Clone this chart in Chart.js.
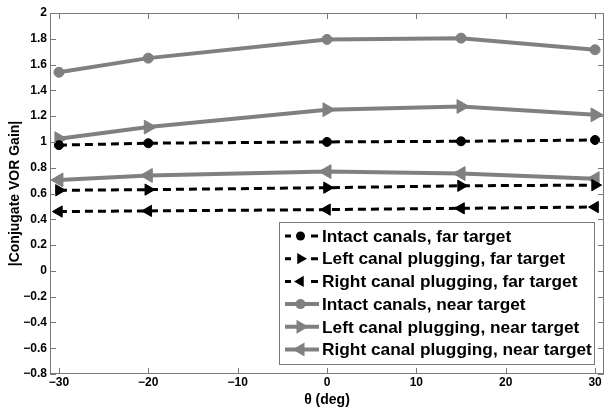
<!DOCTYPE html>
<html>
<head>
<meta charset="utf-8">
<script src="https://cdn.jsdelivr.net/npm/chart.js@4.4.1/dist/chart.umd.min.js"></script>
<style>
html, body { margin: 0; padding: 0; background: #fff; }
#wrap { width: 614px; height: 412px; }
</style>
</head>
<body>
<div id="wrap"><canvas id="c"></canvas></div>
<script>
// gaze angles where gain was measured (deg)
var angles = [-30, -20, 0, 15, 30];

var intactFar = [0.975, 0.99, 1.0, 1.005, 1.015];
var leftFar = [0.625, 0.63, 0.645, 0.66, 0.665];
var rightFar = [0.46, 0.465, 0.475, 0.485, 0.495];
var intactNear = [1.54, 1.65, 1.795, 1.805, 1.715];
var leftNear = [1.025, 1.115, 1.25, 1.275, 1.21];
var rightNear = [0.705, 0.74, 0.77, 0.755, 0.715];

var seriesNames = [
	"Intact canals, far target",
	"Left canal plugging, far target",
	"Right canal plugging, far target",
	"Intact canals, near target",
	"Left canal plugging, near target",
	"Right canal plugging, near target"
];

var xTicks = [-30, -20, -10, 0, 10, 20, 30];
var yTicks = [-0.8, -0.6, -0.4, -0.2, 0, 0.2, 0.4, 0.6, 0.8, 1, 1.2, 1.4, 1.6, 1.8, 2];

var gray = "#808080";
var font = "'Liberation Sans', Arial, sans-serif";

function pts(vals) {
	return vals.map(function(v, i) { return {x: angles[i], y: v}; });
}

function farSet(label, vals, style, rot, r) {
	return {
		label: label, data: pts(vals),
		borderColor: "#000", backgroundColor: "#000",
		borderWidth: 3, borderDash: [8, 5],
		pointStyle: style, pointRotation: rot, pointRadius: r,
		pointBorderWidth: 1, pointBorderColor: "#000", pointBackgroundColor: "#000",
		tension: 0
	};
}

function nearSet(label, vals, style, rot, r) {
	return {
		label: label, data: pts(vals),
		borderColor: gray, backgroundColor: gray,
		borderWidth: 4,
		pointStyle: style, pointRotation: rot, pointRadius: r,
		pointBorderWidth: 1, pointBorderColor: gray, pointBackgroundColor: gray,
		tension: 0
	};
}

var datasets = [
	farSet(seriesNames[0], intactFar, "circle", 0, 4.5),
	farSet(seriesNames[1], leftFar, "triangle", 90, 6.5),
	farSet(seriesNames[2], rightFar, "triangle", 270, 6.5),
	nearSet(seriesNames[3], intactNear, "circle", 0, 5),
	nearSet(seriesNames[4], leftNear, "triangle", 90, 8),
	nearSet(seriesNames[5], rightNear, "triangle", 270, 8)
];

function fmt(v) {
	var s = String(Math.round(v * 10) / 10);
	return s.replace("-", "\u2212");
}

// box round the plot with MATLAB style inward ticks
var frame = {
	id: "frame",
	afterDatasetsDraw: function(chart) {
		var ctx = chart.ctx, a = chart.chartArea;
		var xs = chart.scales.x, ys = chart.scales.y;
		ctx.save();
		ctx.strokeStyle = "#7a7a7a";
		ctx.lineWidth = 1;
		ctx.strokeRect(Math.round(a.left) + 0.5, Math.round(a.top) + 0.5,
			Math.round(a.right - a.left) - 1, Math.round(a.bottom - a.top) - 1);
		ctx.beginPath();
		xTicks.forEach(function(v) {
			var px = Math.round(xs.getPixelForValue(v)) + 0.5;
			ctx.moveTo(px, a.bottom); ctx.lineTo(px, a.bottom - 6);
			ctx.moveTo(px, a.top); ctx.lineTo(px, a.top + 6);
		});
		yTicks.forEach(function(v) {
			var py = Math.round(ys.getPixelForValue(v)) + 0.5;
			ctx.moveTo(a.left, py); ctx.lineTo(a.left + 6, py);
			ctx.moveTo(a.right, py); ctx.lineTo(a.right - 6, py);
		});
		ctx.stroke();
		ctx.restore();
	}
};

function marker(ctx, ds, x, y) {
	var r = ds.pointRadius;
	ctx.fillStyle = ds.pointBackgroundColor;
	ctx.beginPath();
	if (ds.pointStyle === "circle") {
		ctx.arc(x, y, r, 0, Math.PI * 2);
	} else {
		var rad = ds.pointRotation * Math.PI / 180;
		for (var k = 0; k < 3; k++) {
			var px = x + Math.sin(rad) * r, py = y - Math.cos(rad) * r;
			if (k === 0) ctx.moveTo(px, py); else ctx.lineTo(px, py);
			rad += Math.PI * 2 / 3;
		}
		ctx.closePath();
	}
	ctx.fill();
}

// legend box inside the plot, lower right
var boxLegend = {
	id: "boxLegend",
	afterDraw: function(chart) {
		var ctx = chart.ctx, a = chart.chartArea;
		var w = 316, h = 143;
		var x0 = Math.round(a.right - 9 - w), y0 = Math.round(a.bottom - 9.5 - h);
		ctx.save();
		ctx.fillStyle = "#fff";
		ctx.fillRect(x0, y0, w, h);
		ctx.strokeStyle = "#7a7a7a";
		ctx.lineWidth = 1;
		ctx.strokeRect(x0 + 0.5, y0 + 0.5, w - 1, h - 1);
		chart.data.datasets.forEach(function(ds, i) {
			var cy = y0 + 14 + i * 22.7;
			var lx = x0 + 6, rx = x0 + 40, mx = x0 + 21.5;
			ctx.strokeStyle = ds.borderColor;
			ctx.lineWidth = ds.borderWidth;
			ctx.beginPath();
			if (ds.borderDash) {
				ctx.moveTo(lx, cy); ctx.lineTo(lx + 6, cy);
				ctx.moveTo(rx - 8, cy); ctx.lineTo(rx - 1, cy);
			} else {
				ctx.moveTo(lx, cy); ctx.lineTo(rx, cy);
			}
			ctx.stroke();
			marker(ctx, ds, mx, cy);
			ctx.fillStyle = "#000";
			ctx.font = "bold 17.3px " + font;
			ctx.textBaseline = "middle";
			ctx.textAlign = "left";
			ctx.fillText(ds.label, x0 + 43, cy + 1);
		});
		ctx.restore();
	}
};

var ctx = document.getElementById("c").getContext("2d");
var chart = new Chart(ctx, {
	type: "line",
	data: {datasets: datasets},
	plugins: [frame, boxLegend],
	options: {
		responsive: true,
		maintainAspectRatio: false,
		animation: false,
		devicePixelRatio: 1,
		layout: {padding: {top: 13, right: 10, left: 0, bottom: 0}},
		plugins: {legend: {display: false}, tooltip: {enabled: false}},
		scales: {
			x: {
				type: "linear", min: -31, max: 31,
				afterBuildTicks: function(s) { s.ticks = xTicks.map(function(v) { return {value: v}; }); },
				afterFit: function(s) { s.height = 38; },
				grid: {display: false, drawTicks: false},
				border: {display: false},
				ticks: {
					color: "#000", padding: 1, maxRotation: 0,
					font: {family: font, size: 12, weight: "bold"},
					callback: function(v) { return fmt(v); }
				},
				title: {
					display: true, text: "\u03b8 (deg)", color: "#000",
					font: {family: font, size: 14, weight: "bold"},
					padding: {top: 0, bottom: 3}
				}
			},
			y: {
				min: -0.8, max: 2,
				afterBuildTicks: function(s) { s.ticks = yTicks.map(function(v) { return {value: v}; }); },
				afterFit: function(s) { s.width = 50; },
				grid: {display: false, drawTicks: false},
				border: {display: false},
				ticks: {
					color: "#000", padding: 3,
					font: {family: font, size: 12, weight: "bold"},
					callback: function(v) { return fmt(v); }
				},
				title: {
					display: true, text: "|Conjugate VOR Gain|", color: "#000",
					font: {family: font, size: 14, weight: "bold"},
					padding: {top: 7, bottom: 0}
				}
			}
		}
	}
});
</script>
</body>
</html>
